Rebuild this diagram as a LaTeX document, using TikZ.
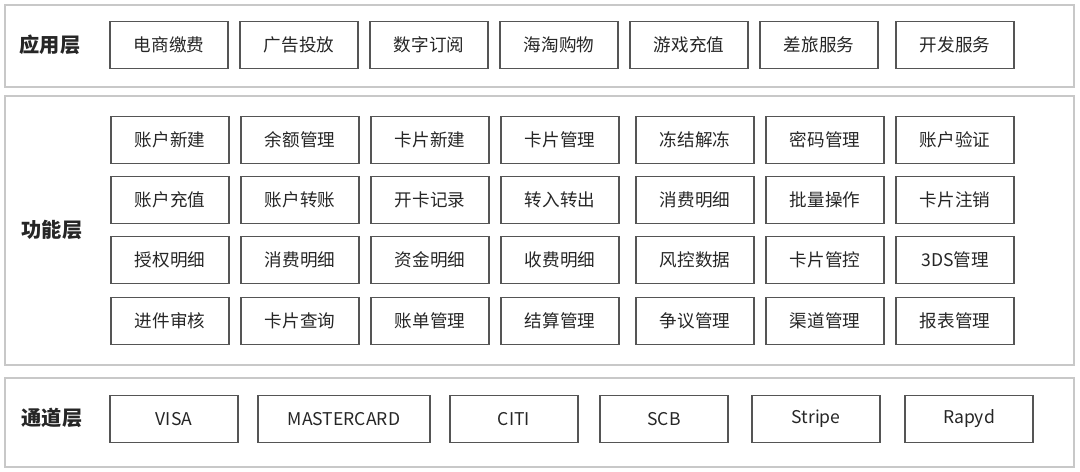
\documentclass[tikz,border=0pt]{standalone}
\usepackage{fontspec}
\setmainfont{Noto Sans CJK SC}
\definecolor{layergray}{HTML}{C8C8C8}
\definecolor{boxgray}{HTML}{555555}
\tikzset{
    layer style/.style={draw=layergray,line width=1.6pt},
    item style/.style={draw=boxgray,line width=0.6pt,minimum width=2.36cm,minimum height=0.94cm,inner sep=0pt,font=\fontsize{10}{12}\selectfont,text=black!85},
    title style/.style={font=\fontsize{11.5}{14}\selectfont\bfseries,text=black!85},
}
\begin{document}
\begin{tikzpicture}[x=0.02cm,y=-0.02cm]
\useasboundingbox (0,0) rectangle (1080,472);

% layers
\draw [layer style] (5,5) rectangle (1074,87);
\draw [layer style] (5,96) rectangle (1074,365);
\draw [layer style] (5,378) rectangle (1074,467);
\node [title style] (app) at (50,45) {应用层};
\node [title style] (fun) at (52,230) {功能层};
\node [title style] (chn) at (52,418) {通道层};

% application layer
\foreach \x/\t [count=\i] in {169/电商缴费,299/广告投放,429/数字订阅,559/海淘购物,689/游戏充值,819/差旅服务,955/开发服务}
  \node [item style] (a\i) at (\x,45) {\t};

% function layer
\foreach \t [count=\i] in {账户新建,余额管理,卡片新建,卡片管理,冻结解冻,密码管理,账户验证}
  \node [item style] (f1\i) at ({170+130*(\i-1)+(\i>4)*5},140) {\t};
\foreach \t [count=\i] in {账户充值,账户转账,开卡记录,转入转出,消费明细,批量操作,卡片注销}
  \node [item style] (f2\i) at ({170+130*(\i-1)+(\i>4)*5},200) {\t};
\foreach \t [count=\i] in {授权明细,消费明细,资金明细,收费明细,风控数据,卡片管控,3DS管理}
  \node [item style] (f3\i) at ({170+130*(\i-1)+(\i>4)*5},260) {\t};
\foreach \t [count=\i] in {进件审核,卡片查询,账单管理,结算管理,争议管理,渠道管理,报表管理}
  \node [item style] (f4\i) at ({170+130*(\i-1)+(\i>4)*5},321) {\t};

% channel layer
\node [item style,minimum width=2.56cm] (visa) at (174,419) {VISA};
\node [item style,minimum width=3.44cm] (mc) at (344,419) {MASTERCARD};
\node [item style,minimum width=2.56cm] (citi) at (514,419) {CITI};
\node [item style,minimum width=2.56cm] (scb) at (664,419) {SCB};
\node [item style,minimum width=2.56cm] (stripe) at (816,419) {Stripe};
\node [item style,minimum width=2.56cm] (rapyd) at (969,419) {Rapyd};

\end{tikzpicture}
\end{document}
